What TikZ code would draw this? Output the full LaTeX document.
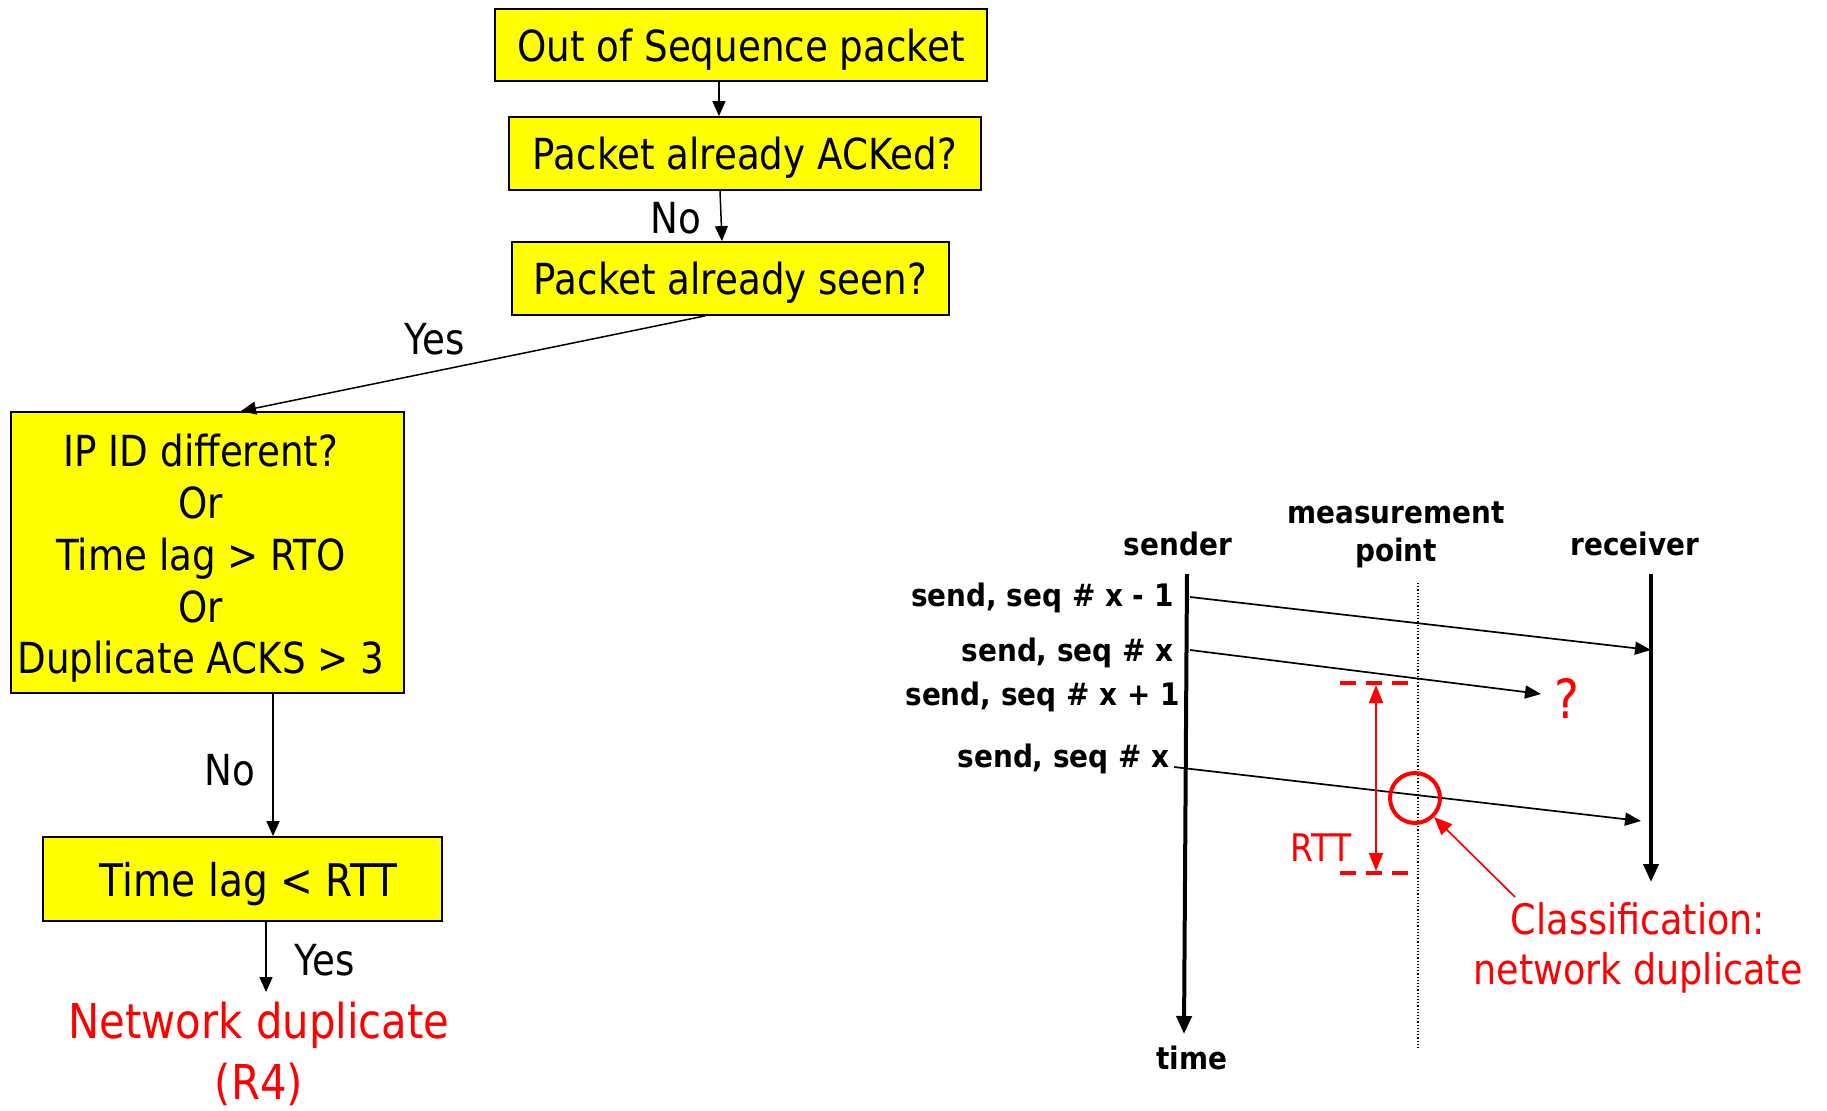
\documentclass[tikz,border=0pt]{standalone}
\usepackage{fontspec}
\setmainfont{DejaVu Sans}[FakeStretch=0.87]
\newfontfamily\labfont{DejaVu Sans}[FakeStretch=0.9]
\usetikzlibrary{arrows.meta,calc}
\definecolor{boxyellow}{RGB}{255,255,0}
\definecolor{myred}{RGB}{255,0,0}
\begin{document}
\begin{tikzpicture}[x=0.5pt,y=-0.5pt,
  box/.style={draw=black, fill=boxyellow, line width=0.9pt, inner sep=0pt, align=center, text depth=0pt, font=\fontsize{21.4}{25.9}\selectfont},
  boxtext/.style={inner sep=0pt, align=center, font=\fontsize{21.4}{25.9}\selectfont},
  arr/.style={line width=0.75pt, -{Triangle[length=7.5pt,width=6.5pt]}},
  lbl/.style={font=\fontsize{21.4}{26}\selectfont, inner sep=0pt},
  slab/.style={font=\labfont\bfseries\fontsize{15.5}{19}\selectfont, inner sep=0pt},
  msg/.style={line width=0.85pt, -{Triangle[length=8pt,width=6.5pt]}},
  axisline/.style={line width=2pt, -{Triangle[length=9pt,width=7.5pt]}},
  redt/.style={text=myred, inner sep=0pt, align=center},
  rttdash/.style={myred, line width=1.8pt, dash pattern=on 8pt off 5pt}
]
\useasboundingbox (0,0) rectangle (1827,1110);

% ---------- flowchart ----------
\node[box, minimum width=246pt, minimum height=36pt] (b1) at (741,45) {Out of Sequence packet};
\node[box, minimum width=236pt, minimum height=36.5pt] (b2) at (745,153.5) {Packet already ACKed?};
\node[box, minimum width=218.5pt, minimum height=36.5pt] (b3) at (730.5,278.5) {Packet already seen?};
\node[box, minimum width=196.5pt, minimum height=140.5pt] (b4) at (207.5,552.5) {};
\node[boxtext] (b4t) at (201,558.5) {IP ID different?\\Or\\Time lag > RTO\\Or\\Duplicate ACKS > 3};
\node[box, minimum width=199.5pt, minimum height=42pt, font=\fontsize{22.5}{27}\selectfont] (b5) at (242.5,879) {\hspace*{6pt}Time lag < RTT};
\node[redt, font=\fontsize{24}{30.5}\selectfont] (nd) at (259,1054) {Network duplicate\\(R4)};
\coordinate (e5) at (266,992);

\draw[arr] ([xshift=-11pt]b1.south) -- ([xshift=-11pt]b1.south |- b2.north);
\draw[arr] ([xshift=-12.5pt]b2.south) -- ([xshift=-4.25pt]b3.north);
\draw[arr] ([xshift=-12.75pt]b3.south) -- ([xshift=16.75pt]b4.north);
\draw[arr] ([xshift=32.75pt]b4.south) -- ([xshift=32.75pt]b4.south |- b5.north);
\draw[arr] ([xshift=11.75pt]b5.south) -- (e5);

\node[lbl] (no1) at (676,218) {No};
\node[lbl] (yes1) at (435,339) {Yes};
\node[lbl] (no2) at (230,770) {No};
\node[lbl] (yes2) at (325,960) {Yes};

% ---------- time-sequence diagram ----------
\node[slab] (snd) at (1178,544) {sender};
\node[slab, align=center] (mp) at (1396,534.5) {measurement\\point};
\node[slab] (rcv) at (1635,544) {receiver};
\node[slab] (tm) at (1192,1058) {time};

\coordinate (stop) at (1187,574);
\coordinate (sbot) at (1184,1034);
\coordinate (rtop) at (1651,574);
\coordinate (rbot) at (1651,882);
\coordinate (mtop) at (1418,583);
\coordinate (mbot) at (1418,1049);
\draw[axisline] (stop) -- (sbot);
\draw[axisline] (rtop) -- (rbot);
\draw[densely dotted, line width=0.6pt] (mtop) -- (mbot);

\node[slab, anchor=east] (l1) at (1174,598) {send, seq \# x - 1};
\node[slab, anchor=east] (l2) at (1174,653) {send, seq \# x};
\node[slab, anchor=east] (l3) at (1180,697) {send, seq \# x + 1};
\node[slab, anchor=east] (l4) at (1170,759) {send, seq \# x};

\coordinate (m1s) at (1190,597);
\coordinate (m1e) at (1651,650);
\coordinate (m2s) at (1190,650);
\coordinate (m2e) at (1541,694);
\coordinate (m3s) at (1174,767);
\coordinate (m3e) at (1641,821);
\draw[msg] (m1s) -- (m1e);
\draw[msg] (m2s) -- (m2e);
\draw[msg] (m3s) -- (m3e);
\node[redt, font=\fontsize{27}{31}\selectfont] (q) at (1567,698) {?};

% RTT marker
\coordinate (d1a) at (1340,683);
\coordinate (d1b) at (1412,683);
\coordinate (d2a) at (1340,873);
\coordinate (d2b) at (1412,873);
\draw[rttdash] (d1a) -- (d1b);
\draw[rttdash] (d2a) -- (d2b);
\coordinate (rt1) at (1376,685);
\coordinate (rt2) at (1376,871);
\draw[myred, line width=0.9pt, {Triangle[length=9pt,width=7pt]}-{Triangle[length=9pt,width=7pt]}] (rt1) -- (rt2);
\node[redt, font=\fontsize{19}{23}\selectfont] (rtt) at (1321,848) {RTT};

% classification
\node[draw=myred, line width=2pt, circle, minimum size=25pt, inner sep=0pt] (circ) at (1415,798) {};
\node[redt, font=\fontsize{21}{25}\selectfont] (cls) at (1638,947.5) {Classification:\\network duplicate};
\coordinate (ca) at (1515,897);
\draw[myred, line width=0.85pt, -{Triangle[length=9pt,width=7.5pt]}] (ca) -- (circ.south east);
\end{tikzpicture}
\end{document}
